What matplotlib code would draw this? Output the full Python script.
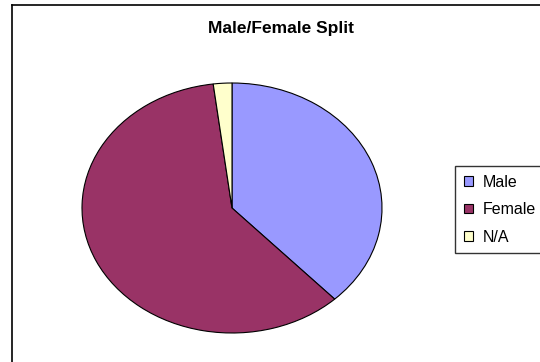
import matplotlib.pyplot as plt
from matplotlib.lines import Line2D

plt.rcParams['font.family'] = ['Liberation Sans', 'DejaVu Sans']

# Gender split data
labels = ['Male', 'Female', 'N/A']
values = [38, 60, 2]
colors = ['#9999FF', '#993366', '#FFFFCC']

fig = plt.figure(figsize=(5.4, 3.62), dpi=100)

# outer chart border (left and top only visible)
fig.add_artist(Line2D([12/540, 12/540], [0, 1 - 5/362], color='black', lw=1.2))
fig.add_artist(Line2D([12/540, 1], [1 - 5/362, 1 - 5/362], color='black', lw=1.2))

# pie is stretched into an ellipse
ax = fig.add_axes([82/540, 29/362, 300/540, 250/362])
wedges, _ = ax.pie(values, colors=colors, startangle=90, counterclock=False,
                   wedgeprops={'edgecolor': 'black', 'linewidth': 0.8})
ax.set_aspect('auto')
ax.set_xlim(-1, 1)
ax.set_ylim(-1, 1)

fig.text(281/540, 1 - 28/362, 'Male/Female Split', ha='center', va='center',
         fontsize=12.5, fontweight='bold')

leg = fig.legend(wedges, labels, loc='upper left',
                 bbox_to_anchor=(455/540, 1 - 166/362), fontsize=11.5,
                 frameon=True, fancybox=False, borderpad=0.55,
                 labelspacing=0.78, handlelength=0.55, handleheight=0.55,
                 handletextpad=0.65, borderaxespad=0)
leg.get_frame().set_edgecolor('black')
leg.get_frame().set_linewidth(1.0)
for h in leg.legend_handles:
    h.set_linewidth(0.8)

fig.savefig('out.png', dpi=100)
